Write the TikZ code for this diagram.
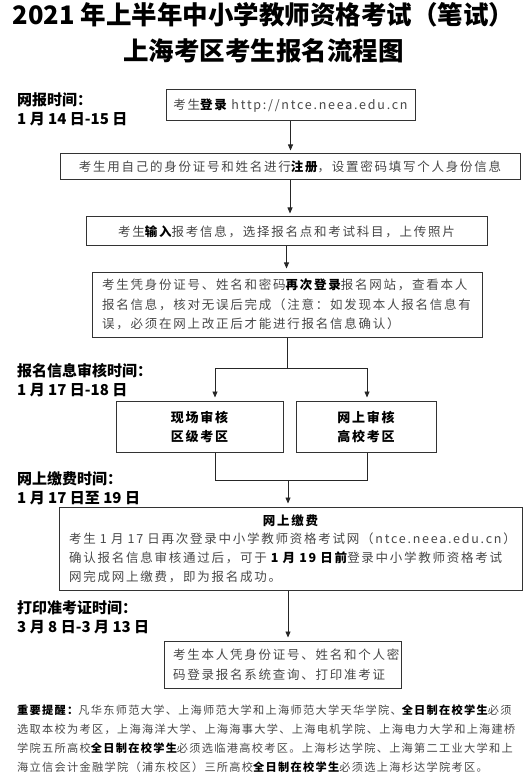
\documentclass[tikz,border=0pt]{standalone}
\usepackage{fontspec}
\setmainfont{Noto Sans CJK SC}
\newfontfamily\boxfont{Noto Sans CJK SC}[LetterSpace=14]
\newfontfamily\notefont{Noto Sans CJK SC}[LetterSpace=11.5]
\usetikzlibrary{arrows.meta}
\newcommand\keyw[1]{{\bfseries\color{black}#1}}

\begin{document}
\begin{tikzpicture}[
  x=1pt, y=-1pt,
  line join=miter,
  >={Triangle[length=6pt,width=5pt]},
  box/.style={draw=black!80, line width=1pt, inner sep=0pt, text=black!72,
    font=\boxfont\fontsize{12.5}{19.5}\selectfont},
  leftbox/.style={box, inner xsep=10pt, align=left},
  tag/.style={anchor=west, align=left, inner sep=0pt,
    font=\bfseries\fontsize{15}{19}\selectfont},
  link/.style={draw=black!85, line width=0.8pt},
  arr/.style={link, ->, shorten >=3pt}
]
\useasboundingbox (0,0) rectangle (527,775);

% 标题
\node[align=center, font=\bfseries\fontsize{25.5}{36}\selectfont] (title) at (263.5,33)
  {2021~年上半年中小学教师资格考试（笔试）\\上海考区考生报名流程图};

% 左侧时间
\node[tag] (t1) at (17,109) {网报时间：\\1~月~14~日-15~日};
\node[tag] (t2) at (17,380) {报名信息审核时间：\\1~月~17~日-18~日};
\node[tag] (t3) at (17,488) {网上缴费时间：\\1~月~17~日至~19~日};
\node[tag] (t4) at (17,617) {打印准考证时间：\\3~月~8~日-3~月~13~日};

% 流程框
\node[box, minimum width=249pt, minimum height=31pt] (login) at (290.5,105.5)
  {考生\keyw{登录}~http://ntce.neea.edu.cn};
\node[box, minimum width=460pt, minimum height=26pt] (reg) at (290,167)
  {考生用自己的身份证号和姓名进行\keyw{注册}，设置密码填写个人身份信息};
\node[box, minimum width=401pt, minimum height=29pt] (input) at (286.5,231.5)
  {考生\keyw{输入}报考信息，选择报名点和考试科目，上传照片};
\node[leftbox, text width=370pt, minimum height=65pt] (info) at (287,304.5)
  {考生凭身份证号、姓名和密码\keyw{再次登录}报名网站，查看本人\\
   报名信息，核对无误后完成（注意：如发现本人报名信息有\\
   误，必须在网上改正后才能进行报名信息确认）};
\node[box, align=center, minimum width=167pt, minimum height=51pt,
  font=\boxfont\bfseries\fontsize{13}{19}\selectfont, text=black] (site) at (199.5,426.5)
  {现场审核\\区级考区};
\node[box, align=center, minimum width=140pt, minimum height=51pt,
  font=\boxfont\bfseries\fontsize{13}{19}\selectfont, text=black] (online) at (366,426.5)
  {网上审核\\高校考区};
\node[leftbox, text width=443pt, minimum height=83pt,
  font=\boxfont\fontsize{12.5}{18.7}\selectfont] (pay) at (290.5,548.5)
  {\hfill\keyw{网上缴费}\hfill\null\\
   考生~1~月~17~日再次登录中小学教师资格考试网（ntce.neea.edu.cn）\\
   确认报名信息审核通过后，可于~\keyw{1~月~19~日前}登录中小学教师资格考试\\
   网完成网上缴费，即为报名成功。};
\node[leftbox, inner xsep=9pt, text width=219pt, minimum height=47pt] (card) at (282.5,664.5)
  {考生本人凭身份证号、姓名和个人密\\码登录报名系统查询、打印准考证};

% 连线
\coordinate (sl) at (215,368);
\coordinate (sr) at (367,368);
\coordinate (jl) at (215,480);
\coordinate (jr) at (367,480);
\coordinate (jm) at (288,480);

\draw[arr] (login.south) -- (login.south |- reg.north);
\draw[arr] (reg.south) -- (reg.south |- input.north);
\draw[arr] (input.south) -- (input.south |- info.north);
\draw[link] (info.south) -- (info.south |- sl);
\draw[link] (sl) -- (sr);
\draw[arr] (sl) -- (sl |- site.north);
\draw[arr] (sr) -- (sr |- online.north);
\draw[link] (sl |- site.south) -- (jl) -- (jr) -- (sr |- online.south);
\draw[arr] (jm) -- (jm |- pay.north);
\draw[arr] (jm |- pay.south) -- (jm |- card.north);

% 重要提醒
\node[anchor=north west, inner sep=0pt, text width=505pt, align=left, text=black!72,
  font=\notefont\fontsize{11.2}{19}\selectfont] (note) at (17,705)
  {\keyw{重要提醒：}凡华东师范大学、上海师范大学和上海师范大学天华学院、\keyw{全日制在校学生}必须\\
   选取本校为考区，上海海洋大学、上海海事大学、上海电机学院、上海电力大学和上海建桥\\
   学院五所高校\keyw{全日制在校学生}必须选临港高校考区。上海杉达学院、上海第二工业大学和上\\
   海立信会计金融学院（浦东校区）三所高校\keyw{全日制在校学生}必须选上海杉达学院考区。};
\end{tikzpicture}
\end{document}
